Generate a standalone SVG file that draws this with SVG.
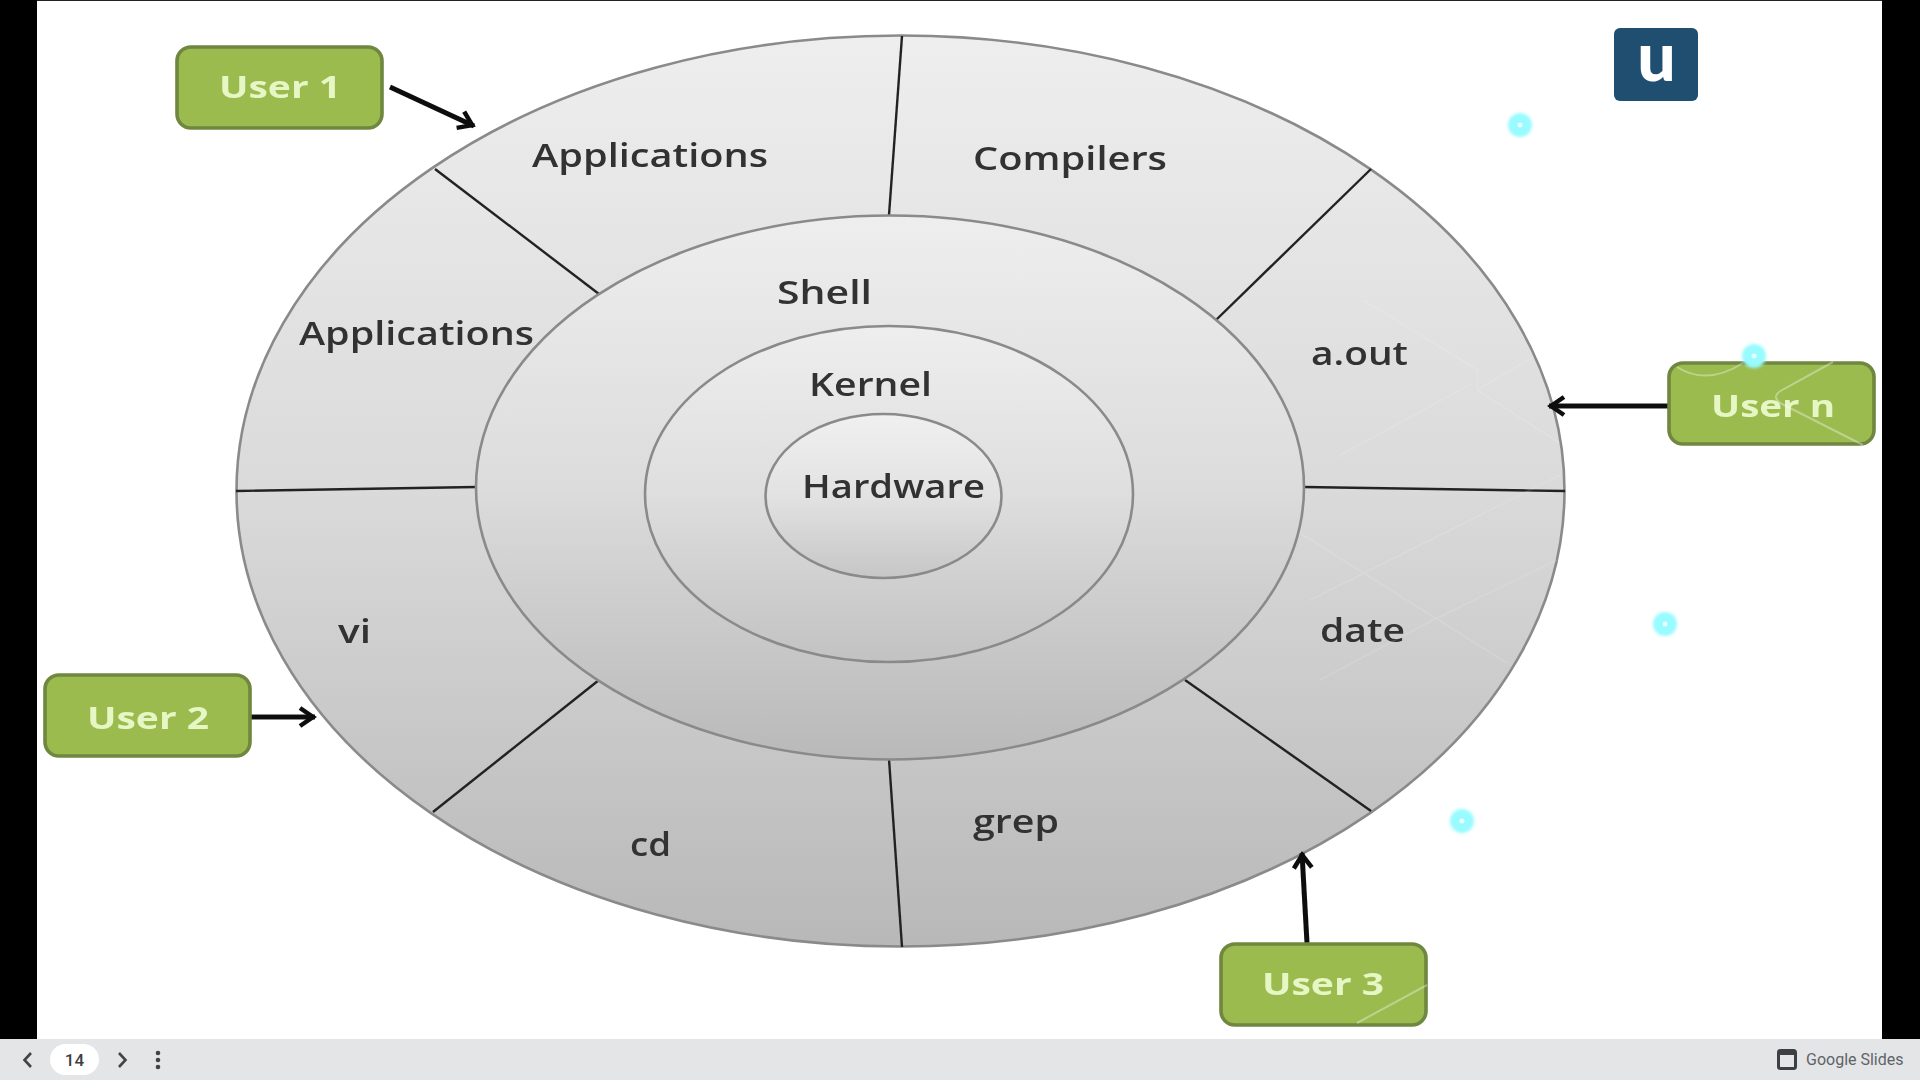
<svg xmlns="http://www.w3.org/2000/svg" width="1920" height="1080" viewBox="0 0 1920 1080">
<defs>
<linearGradient id="gOuter" x1="0" y1="0" x2="0" y2="1"><stop offset="0" stop-color="#eeeeee"/><stop offset="0.5" stop-color="#dadada"/><stop offset="1" stop-color="#b8b8b8"/></linearGradient>
<linearGradient id="gShell" x1="0" y1="0" x2="0" y2="1"><stop offset="0" stop-color="#eeeeee"/><stop offset="0.5" stop-color="#dcdcdc"/><stop offset="1" stop-color="#b9b9b9"/></linearGradient>
<linearGradient id="gKernel" x1="0" y1="0" x2="0" y2="1"><stop offset="0" stop-color="#eeeeee"/><stop offset="0.5" stop-color="#dedede"/><stop offset="1" stop-color="#c2c2c2"/></linearGradient>
<linearGradient id="gHw" x1="0" y1="0" x2="0" y2="1"><stop offset="0" stop-color="#f0f0f0"/><stop offset="0.5" stop-color="#e2e2e2"/><stop offset="1" stop-color="#c6c6c6"/></linearGradient>
<filter id="soft" x="-5%" y="-20%" width="110%" height="140%"><feGaussianBlur stdDeviation="0.7"/></filter>
<filter id="blurline" filterUnits="userSpaceOnUse" x="0" y="0" width="1920" height="1080"><feGaussianBlur stdDeviation="0.7"/></filter>
<filter id="glow" x="-50%" y="-50%" width="200%" height="200%"><feGaussianBlur stdDeviation="1.5"/></filter>
<marker id="arrow" viewBox="0 0 24 24" refX="22" refY="12" markerWidth="24" markerHeight="24" markerUnits="userSpaceOnUse" orient="auto"><path d="M7 3 L20 12 L7 21" fill="none" stroke="#111" stroke-width="4.500"/></marker>
</defs>
<style>
.ring{stroke:#8a8a8a;stroke-width:2.6;filter:url(#blurline)}
.div{stroke:#222;stroke-width:2.4;fill:none}
.lbl{font-family:"Open Sans","DejaVu Sans",sans-serif;font-size:32px;font-weight:600;fill:#333;filter:url(#soft)}
.box{fill:#9bbb50;stroke:#6f8740;stroke-width:3.6;filter:url(#blurline)}
.usr{font-family:"Open Sans","DejaVu Sans",sans-serif;font-size:31px;font-weight:700;fill:#e6f6c4;filter:url(#soft)}
.conn{stroke:#111;stroke-width:5;fill:none;marker-end:url(#arrow)}
.faint{fill:none;stroke:#fff;stroke-width:1.5;stroke-opacity:.13}
.faintb{fill:none;stroke:#fff;stroke-width:2;stroke-opacity:.35}
.dot{fill:#98fbff;filter:url(#glow)}
.dotc{fill:#eaffff}
.ft{font-family:Roboto,"Liberation Sans",sans-serif}
.chev{fill:none;stroke:#444;stroke-width:2.6}
</style>
<rect id="page" x="0" y="0" width="1920" height="1080" fill="#000"/>
<rect x="37" y="1" width="1845" height="1038" fill="#fff"/>
<rect x="37" y="0" width="1845" height="1" fill="#222"/>

<g id="outer-ring"><ellipse cx="900.5" cy="491" rx="664" ry="455.5" fill="url(#gOuter)" class="ring"/></g>
<g id="dividers" filter="url(#blurline)">
<line class="div" x1="902" y1="36" x2="889" y2="215"/>
<line class="div" x1="435" y1="169" x2="599" y2="294"/>
<line class="div" x1="1371" y1="169" x2="1215" y2="321"/>
<line class="div" x1="236" y1="491" x2="476" y2="487"/>
<line class="div" x1="1304" y1="487" x2="1565" y2="491"/>
<line class="div" x1="433" y1="812" x2="599" y2="680"/>
<line class="div" x1="1371" y1="811" x2="1185" y2="680"/>
<line class="div" x1="889" y1="759" x2="902" y2="947"/>
</g>
<g id="shell"><ellipse cx="890" cy="487.5" rx="414" ry="272" fill="url(#gShell)" class="ring"/><text class="lbl" x="777" y="304" textLength="95" lengthAdjust="spacingAndGlyphs">Shell</text></g>
<g id="kernel"><ellipse cx="889" cy="494" rx="244" ry="168" fill="url(#gKernel)" class="ring"/><text class="lbl" x="809" y="396" textLength="123" lengthAdjust="spacingAndGlyphs">Kernel</text></g>
<g id="hardware"><ellipse cx="883.5" cy="496" rx="118" ry="82" fill="url(#gHw)" class="ring"/><text class="lbl" x="802" y="498" textLength="183" lengthAdjust="spacingAndGlyphs">Hardware</text></g>

<g id="segment-applications-1"><text class="lbl" x="532" y="167" textLength="236" lengthAdjust="spacingAndGlyphs">Applications</text></g>
<g id="segment-compilers"><text class="lbl" x="973" y="170" textLength="194" lengthAdjust="spacingAndGlyphs">Compilers</text></g>
<g id="segment-applications-2"><text class="lbl" x="299" y="345" textLength="235" lengthAdjust="spacingAndGlyphs">Applications</text></g>
<g id="segment-aout"><text class="lbl" x="1311" y="365" textLength="97" lengthAdjust="spacingAndGlyphs">a.out</text></g>
<g id="segment-vi"><text class="lbl" x="338" y="643" textLength="33" lengthAdjust="spacingAndGlyphs">vi</text></g>
<g id="segment-date"><text class="lbl" x="1320" y="642" textLength="85" lengthAdjust="spacingAndGlyphs">date</text></g>
<g id="segment-cd"><text class="lbl" x="630" y="856" textLength="41" lengthAdjust="spacingAndGlyphs">cd</text></g>
<g id="segment-grep"><text class="lbl" x="973" y="833" textLength="86" lengthAdjust="spacingAndGlyphs">grep</text></g>

<g id="connectors" filter="url(#blurline)">
<line class="conn" x1="390" y1="87" x2="474" y2="126"/>
<line class="conn" x1="251" y1="717" x2="315" y2="717"/>
<line class="conn" x1="1307" y1="943" x2="1302" y2="853"/>
<line class="conn" x1="1668" y1="406" x2="1549" y2="406"/>
</g>

<g id="user-1"><rect class="box" x="177" y="47" width="205" height="81" rx="14"/><text class="usr" x="219" y="98" textLength="122" lengthAdjust="spacingAndGlyphs">User 1</text></g>
<g id="user-2"><rect class="box" x="45" y="675" width="205" height="81" rx="14"/><text class="usr" x="87" y="729" textLength="122" lengthAdjust="spacingAndGlyphs">User 2</text></g>
<g id="user-3"><rect class="box" x="1221" y="944" width="205" height="81" rx="14"/><text class="usr" x="1262" y="995" textLength="122" lengthAdjust="spacingAndGlyphs">User 3</text></g>
<g id="user-n"><rect class="box" x="1669" y="363" width="205" height="81" rx="14"/><text class="usr" x="1711" y="417" textLength="124" lengthAdjust="spacingAndGlyphs">User n</text></g>

<g id="overlay-lines">
<path class="faint" d="M1337 457 L1473 383 M1363 300 L1478 370 L1477 390 L1560 443 M1477 390 L1533 357 M1310 600 L1560 475 M1300 533 L1507 663 M1320 680 L1433 620 L1557 560"/>
<path class="faintb" d="M1677 367 Q1707 386 1743 363 M1833 362 L1782 390 Q1770 397 1782 404 L1863 445 M1357 1023 L1427 985"/>
</g>
<g id="overlay-dots">
<circle class="dot" cx="1520" cy="125" r="12"/><circle class="dotc" cx="1520" cy="125" r="2.500"/>
<circle class="dot" cx="1754" cy="356" r="12"/><circle class="dotc" cx="1754" cy="356" r="2.500"/>
<circle class="dot" cx="1665" cy="624" r="12"/><circle class="dotc" cx="1665" cy="624" r="2.500"/>
<circle class="dot" cx="1462" cy="821" r="12"/><circle class="dotc" cx="1462" cy="821" r="2.500"/>
</g>

<g id="logo"><rect x="1614" y="28" width="84" height="73" rx="6" fill="#1f4e71"/><text x="1656.500" y="81" text-anchor="middle" font-family="Lato,'Open Sans',sans-serif" font-size="68" font-weight="900" fill="#fff">u</text></g>

<g id="footer">
<rect x="0" y="1039" width="1920" height="41" fill="#e4e5e7"/>
<path class="chev" d="M31 1053 L24.500 1060 L31 1067"/>
<rect x="50" y="1044" width="49" height="31" rx="15.500" fill="#fff"/>
<text class="ft" x="74.500" y="1066" text-anchor="middle" font-size="17" font-weight="500" fill="#3c4043">14</text>
<path class="chev" d="M119 1053 L125.500 1060 L119 1067"/>
<circle cx="158" cy="1053" r="2.300" fill="#444"/><circle cx="158" cy="1060" r="2.300" fill="#444"/><circle cx="158" cy="1067" r="2.300" fill="#444"/>
<rect x="1778.500" y="1050.500" width="17" height="18" rx="2" fill="#e4e5e7" stroke="#3c4043" stroke-width="3"/>
<rect x="1778" y="1050" width="18" height="5" fill="#3c4043"/>
<text class="ft" x="1806" y="1065" font-size="16" fill="#5f6368">Google Slides</text>
</g>
</svg>
